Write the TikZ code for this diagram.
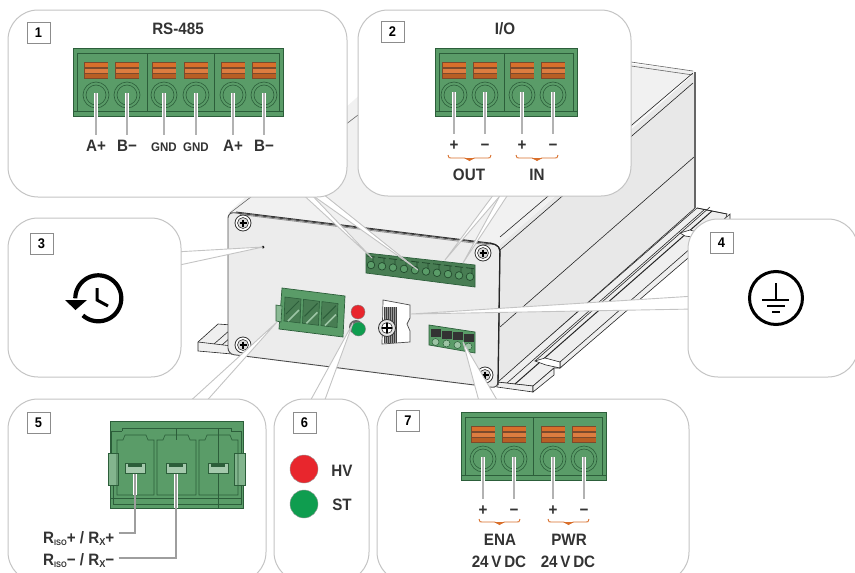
\documentclass[tikz,border=0pt]{standalone}
\usepackage{fontspec}
\setmainfont{Liberation Sans}
\newfontfamily\lblfont[FakeStretch=0.92,UprightFont=* Bold]{Liberation Sans}
\usetikzlibrary{positioning}

\definecolor{termgreen}{HTML}{5A9C68}
\definecolor{termdark}{HTML}{2C5E3A}
\definecolor{termbrown}{HTML}{7C4A2C}
\definecolor{termorange}{HTML}{D96F2B}
\definecolor{facegrey}{HTML}{ECECEC}
\definecolor{sidegrey}{HTML}{E8E8E8}
\definecolor{topgrey}{HTML}{F1F1F1}
\definecolor{railgrey}{HTML}{EFEFEF}
\definecolor{bordergrey}{HTML}{C4C4C4}
\definecolor{ledred}{HTML}{E8262D}
\definecolor{ledgreen}{HTML}{0F9D4F}

% terminal block body: x1, x2, y top
\newcommand{\termbody}[3]{
  \draw[draw=termdark, fill=termgreen, line width=0.7pt] (#1,#3) rectangle (#2,#3+68);
  \draw[draw=termdark, line width=0.6pt] (#1+4,#3+63) -- (#1+4,#3+5) -- (#2-4,#3+5) -- (#2-4,#3+63);
  \draw[draw=termdark, line width=0.6pt] (#1,#3+63) -- (#2,#3+63);
}
% one pin of a terminal block: x, y top
\newcommand{\termpin}[2]{
  \fill[termbrown] (#1-12,#2+14) rectangle (#1+12,#2+31);
  \fill[termorange] (#1-11.5,#2+15) rectangle (#1+11.5,#2+19);
  \fill[termorange!90!white] (#1-11.5,#2+20.5) rectangle (#1+11.5,#2+24.5);
  \fill[termorange!85!black] (#1-11.5,#2+26) rectangle (#1+11.5,#2+30);
  \draw[termdark, line width=0.6pt] (#1,#2+47) circle (13) (#1,#2+47) circle (10);
}
% wire from a pin to its label: x, y top, name, text, style
\newcommand{\pinlabel}[5]{
  \coordinate (pin#3) at (#1,#2+45);
  \node[#5] (#3) at (#1,#2+97) {#4};
  \draw[lead] (pin#3) -- (#3.north);
}
% orange brace: x1, x2, y
\newcommand{\orbrace}[3]{
  \draw[draw=termorange, line width=0.9pt, fill=none]
    (#1,#3) .. controls (#1,#3+3) and (#1+1,#3+3) .. (#1+5,#3+3)
    -- ({(#1+#2)/2-5},#3+3) -- ({(#1+#2)/2},#3+5) -- ({(#1+#2)/2+5},#3+3)
    -- (#2-5,#3+3) .. controls (#2-1,#3+3) and (#2,#3+3) .. (#2,#3);
  \fill[termorange] ({(#1+#2)/2-5},#3+3) -- ({(#1+#2)/2},#3+6) -- ({(#1+#2)/2+5},#3+3) -- cycle;
}
% screw in the front plate
\newcommand{\platescrew}[2]{
  \draw[black!80, line width=0.8pt, fill=white] (#1,#2) circle (8);
  \draw[black!80, line width=0.6pt, fill=black!15] (#1,#2) circle (5.5);
  \draw[black, line width=1.3pt] (#1-3.5,#2) -- (#1+3.5,#2) (#1,#2-3.5) -- (#1,#2+3.5);
}

\begin{document}
\begin{tikzpicture}[
    x=1pt, y=-1pt,
    callout/.style={
      draw=bordergrey, fill=white, line width=1pt,
      rounded corners=30pt
    },
    numbox/.style={
      draw=black!45, fill=white, line width=0.6pt, inner sep=0pt,
      minimum width=23pt, minimum height=21pt,
      font=\lblfont\fontsize{14}{14}\selectfont
    },
    wedge/.style={draw=bordergrey, fill=white, line width=0.9pt, line join=round},
    lead/.style={
      draw=black!30, line width=2pt, shorten >=4pt,
      preaction={draw=white, line width=3.6pt}
    },
    wire/.style={draw=black!38, line width=1.5pt},
    title/.style={font=\lblfont\fontsize{16.5}{17}\selectfont, text=black!80, inner sep=0pt},
    pinbig/.style={title, text height=12pt, text depth=0pt},
    pinsmall/.style={pinbig, font=\lblfont\fontsize{12.5}{13}\selectfont},
    edgeline/.style={draw=black!85, line width=0.6pt}
  ]

\useasboundingbox (0,0) rectangle (855,573);
\clip (0,0) rectangle (855,573);

% --- Flanges below the housing ---
    \draw[edgeline, fill=railgrey] (198,342) -- (218,324) -- (232,325) -- (232,354) -- (198,351) -- cycle;
    \draw[edgeline] (198,342) -- (232,346);
    \draw[edgeline] (214,344) -- (230,330) (222,345) -- (231,337);
    \draw[edgeline, fill=railgrey] (497,382) -- (697,208) -- (727,214) -- (725,221) -- (698,243)
      -- (560,368) -- (554,368) -- (533,386) -- (497,382) -- cycle;
    \draw[edgeline, fill=railgrey] (497,382) -- (533,386) -- (533,392) -- (497,387) -- cycle;
    \draw[edgeline, fill=railgrey] (533,386) -- (554,368) -- (554,375) -- (533,392) -- cycle;
    \draw[edgeline, fill=railgrey] (560,362) -- (730,214) -- (730,222) -- (560,368) -- cycle;
    \draw[edgeline] (507,383) -- (705,209) (697,208) -- (727,214);
    \draw[edgeline, line width=1pt] (515,384) -- (712,211);
    \draw[edgeline] (535,361) -- (710,207);
    \draw[edgeline, fill=white] (535,361) -- (545,358) -- (560,362) -- (560,368) -- (546,365) -- cycle;
    \draw[edgeline, fill=white] (680,233) -- (690,230) -- (700,233) -- (700,238) -- (685,236) -- cycle;

% --- Housing ---
    \fill[topgrey] (228,213) -- (421,40) -- (695,71) -- (500,245) -- cycle;
    \draw[edgeline, draw=black!60] (230,213) -- (358,115);
    \draw[edgeline, draw=black!60] (631,62) -- (693,71) (631,66) -- (693,75);
    \fill[sidegrey] (500,245) -- (695,73) -- (695,208) -- (498,382) -- cycle;
    \draw[edgeline] (500,237) -- (693,73) (500,250) -- (693,83) (500,327) -- (694,157);
    \draw[edgeline] (499,381) -- (695,208);
    \draw[draw=black!60, line width=1.5pt] (695,72) -- (695,208);
    \draw[draw=black!70, fill=facegrey, line width=0.9pt, rounded corners=6pt]
      (228,212) -- (500,245) -- (498,388) -- (228,354) -- cycle;
    \draw[draw=black!85, line width=1.3pt, rounded corners=5pt] (490,243) -- (500,246) -- (498,385);
    \draw[draw=black!80, line width=0.9pt] (236,212) -- (490,243);
    \draw[draw=black!45, line width=0.8pt] (240,214.5) -- (490,245);
    \platescrew{243}{223}
    \platescrew{483}{253}
    \platescrew{243}{345}
    \platescrew{485}{375}
    \fill[black] (263,247) circle (1.5);

% --- Terminal strip on the front plate ---
    \draw[draw=termdark, fill=termgreen!80!black, line width=0.7pt]
      (366,253) -- (475,265) -- (475,287) -- (366,273) -- cycle;
    \foreach \k in {0,...,9} {
      \pgfmathsetmacro{\px}{371+\k*11}
      \pgfmathsetmacro{\py}{265+\k*1.3}
      \draw[termdark!80!black, line width=0.7pt, fill=termgreen] (\px,\py) circle (3.8);
      \draw[termdark!80!black, line width=0.8pt] (\px-4,\py-9) -- (\px+4,\py-8) (\px+2,\py-8) -- (\px+2,\py-3);
    }

% --- Plug on the front plate ---
    \draw[draw=termdark, fill=termgreen, line width=0.7pt]
      (282,288) -- (345,296) -- (343,337) -- (279,329) -- cycle;
    \draw[draw=termdark, fill=termgreen!70!white, line width=0.6pt] (276,305) -- (282,306) -- (281,322) -- (276,321) -- cycle;
    \foreach \k in {0,1,2} {
      \pgfmathsetmacro{\px}{285+\k*18.5}
      \pgfmathsetmacro{\py}{297+\k*2.3}
      \draw[draw=termdark, fill=termgreen!80!black, line width=0.6pt]
        (\px,\py) -- (\px+16,\py+2) -- (\px+15,\py+26) -- (\px-1,\py+24) -- cycle;
      \draw[draw=termdark, line width=1pt] (\px+1,\py+17) -- (\px+14,\py+4);
      \draw[draw=termgreen!60!white, line width=1.6pt] (\px+3,\py+24) -- (\px+14,\py+13);
    }

% --- LEDs ---
    \fill[black!60] (356,327) circle (7);
    \draw[draw=black!50, fill=ledgreen] (358.5,329) circle (7);
    \draw[draw=black!50, fill=ledred] (358,312) circle (7);

% --- Ground bolt ---
    \draw[draw=black!70, fill=white, line width=0.7pt]
      (383,300) -- (410,305) -- (410,318) -- (407,324) -- (410,331) -- (410,342) -- (382,344) -- cycle;
    \fill[black!40] (384,307) rectangle (397,343);
    \foreach \k in {0,...,6} {
      \draw[black!75, line width=0.5pt] (384+\k*2.1,307) -- (384+\k*2.1,343);
    }
    \draw[black!80, line width=0.8pt, fill=black!10] (387,328) circle (8.5);
    \draw[black!80, line width=0.6pt, fill=white] (387,328) circle (5.5);
    \draw[black, line width=1.1pt] (382,328) -- (392,328) (387,323) -- (387,333);

% --- Small terminal on the front plate ---
    \draw[draw=termdark, fill=termgreen, line width=0.7pt]
      (429,325) -- (475,332) -- (475,353) -- (429,345) -- cycle;
    \foreach \k in {0,...,3} {
      \pgfmathsetmacro{\px}{430.5+\k*11}
      \pgfmathsetmacro{\py}{329+\k*1.5}
      \fill[black!80] (\px,\py) rectangle (\px+10,\py+8);
      \draw[termdark, fill=termgreen!60!white, line width=0.5pt] (\px+5,\py+13) circle (3.5);
    }

% --- Wedges from the callouts to the parts ---
    \coordinate (tip1a) at (372,258);
    \coordinate (tip1b) at (418,270);
    \coordinate (tip2a) at (445,260);
    \coordinate (tip2b) at (463,263);
    \coordinate (tip3) at (263,247);
    \coordinate (tip4) at (411,314);
    \coordinate (tip5) at (277,322);
    \coordinate (tip6) at (353,323);
    \coordinate (tip7) at (463,342);
    \draw[wedge] (298,190) -- (tip1a) -- (307,190) -- cycle;
    \draw[wedge] (305,190) -- (tip1b) -- (318,190) -- cycle;
    \draw[wedge] (497,190) -- (tip2a) -- (505,190) -- cycle;
    \draw[wedge] (503,190) -- (tip2b) -- (511,190) -- cycle;
    \draw[wedge] (175,252) -- (tip3) -- (175,266) -- cycle;
    \draw[wedge] (695,296) -- (tip4) -- (695,309) -- cycle;
    \draw[wedge] (186,405) -- (tip5) -- (203,405) -- cycle;
    \draw[wedge] (308,405) -- (tip6) -- (323,405) -- cycle;
    \draw[wedge] (480,405) -- (tip7) -- (500,405) -- cycle;

% --- Callout 1, RS-485 ---
    \draw[callout] (8,10) rectangle (347,197);
    \node[numbox] (num1) at (38.5,32.5) {1};
    \node[title] (rs485) at (178,29) {RS-485};
    \termbody{73}{283}{48}
    \draw[termdark, line width=0.6pt] (147,53) -- (147,111) (214,53) -- (214,111);
    \termpin{96}{48} \termpin{127}{48} \termpin{164}{48}
    \termpin{196}{48} \termpin{233}{48} \termpin{264}{48}
    \pinlabel{96}{48}{lblAa}{A+}{pinbig}
    \pinlabel{127}{48}{lblBa}{B−}{pinbig}
    \pinlabel{164}{48}{lblGa}{GND}{pinsmall}
    \pinlabel{196}{48}{lblGb}{GND}{pinsmall}
    \pinlabel{233}{48}{lblAb}{A+}{pinbig}
    \pinlabel{264}{48}{lblBb}{B−}{pinbig}

% --- Callout 2, I/O ---
    \draw[callout] (358,10) rectangle (631,196);
    \node[numbox] (num2) at (392.5,32) {2};
    \node[title] (io) at (505,29) {I/O};
    \termbody{435}{577}{48}
    \draw[termdark, line width=0.6pt] (504,53) -- (504,111);
    \termpin{454}{48} \termpin{485}{48} \termpin{522}{48} \termpin{553}{48}
    \pinlabel{454}{47}{lblOp}{+}{pinbig}
    \pinlabel{485}{47}{lblOm}{−}{pinbig}
    \pinlabel{522}{47}{lblIp}{+}{pinbig}
    \pinlabel{553}{47}{lblIm}{−}{pinbig}
    \orbrace{448}{491}{155}
    \orbrace{516}{558}{155}
    \node[title] (out) at (469,175) {OUT};
    \node[title] (in) at (537,175) {IN};

% --- Callout 3, reset ---
    \draw[callout] (8,218) rectangle (181,377);
    \node[numbox] (num3) at (41.5,243.5) {3};
    \draw[black, line width=4.2pt] plot[smooth, domain=180:492, samples=50]
      ({98.3+23*cos(\x)},{298.3+23*sin(\x)});
    \fill[black] (65,300) -- (87,300) -- (75.5,310) -- cycle;
    \draw[black, line width=3pt] (97,288) -- (97,300) -- (108,306);

% --- Callout 4, ground ---
    \draw[callout] (688,219) rectangle (858,377);
    \node[numbox] (num4) at (721.5,243) {4};
    \draw[black, line width=3pt] (776,298) circle (26.5);
    \draw[black, line width=1.8pt] (776,283) -- (776,299);
    \draw[black, line width=2pt] (762,299.5) -- (789,299.5);
    \draw[black, line width=2pt] (767,306) -- (785,306);
    \draw[black, line width=2pt] (772,312) -- (780,312);

% --- Callout 5, plug ---
    \draw[callout] (8,399) rectangle (266,582);
    \node[numbox] (num5) at (38.5,423) {5};
    \draw[draw=termdark, fill=termgreen, line width=0.6pt] (110,421) rectangle (243,508);
    \draw[draw=termdark, fill=termgreen!75!white, line width=0.5pt] (108,453) rectangle (118,485);
    \draw[draw=termdark, fill=termgreen!75!white, line width=0.5pt] (234,453) rectangle (245,485);
    \draw[termdark, line width=0.6pt] (122,431) -- (122,428) -- (231,428) -- (231,431);
    \draw[termdark, line width=0.6pt] (111,431) -- (122,431) (231,431) -- (242,431)
      (111,498) -- (241,498) (111,431) -- (111,453) (241,431) -- (241,453)
      (113,485) -- (113,504) -- (241,504) -- (241,485);
    \foreach \xa/\xb in {117/154,157/196,199/238} {
      \draw[termdark, line width=0.6pt]
        (\xa,495) -- (\xa,440) -- (\xa+6,440) -- (\xa+8,435) -- (\xb-8,435) -- (\xb-6,440) -- (\xb,440) -- (\xb,495) -- cycle;
    }
    \draw[termdark, line width=0.6pt] (176,428) -- (176,440) (218,428) -- (218,508) (176,495) -- (176,508);
    \foreach \sx in {135,176,218} {
      \draw[termdark, line width=0.6pt, fill=termgreen!55!white] (\sx-10,463) rectangle (\sx+10,473);
      \fill[termdark] (\sx-7,464) rectangle (\sx+7,467);
    }
    \node[pinbig, anchor=west] (riso1) at (43,537) {R\raisebox{-2pt}{\fontsize{8}{8}\selectfont ISO}+ / R\raisebox{-2pt}{\fontsize{10}{10}\selectfont X}+};
    \node[pinbig, anchor=west] (riso2) at (43,559) {R\raisebox{-2pt}{\fontsize{8}{8}\selectfont ISO}− / R\raisebox{-2pt}{\fontsize{10}{10}\selectfont X}−};
    \coordinate (slot1) at (135,474);
    \coordinate (slot2) at (176,474);
    \draw[draw=white, line width=3.6pt] (slot1) -- (135,495);
    \draw[draw=white, line width=3.6pt] (slot2) -- (176,508);
    \draw[wire] (riso1.east) ++(4,-4) -| (slot1);
    \draw[wire] (riso2.east) ++(4,-1) -| (slot2);

% --- Callout 6, LEDs ---
    \draw[callout] (274,399) rectangle (369,582);
    \node[numbox] (num6) at (304.5,423) {6};
    \draw[draw=black!40, fill=ledred] (304,469) circle (14);
    \draw[draw=black!40, fill=ledgreen] (304,504) circle (14);
    \node[pinbig] (hv) at (342,470) {HV};
    \node[pinbig] (st) at (342,504) {ST};

% --- Callout 7, ENA and PWR ---
    \draw[callout] (377,399) rectangle (689,582);
    \node[numbox] (num7) at (408,421) {7};
    \termbody{461}{606}{412}
    \draw[termdark, line width=0.6pt] (533,417) -- (533,475);
    \termpin{483}{412} \termpin{514}{412} \termpin{553}{412} \termpin{584}{412}
    \pinlabel{483}{412}{lblEp}{+}{pinbig}
    \pinlabel{514}{412}{lblEm}{−}{pinbig}
    \pinlabel{553}{412}{lblPp}{+}{pinbig}
    \pinlabel{584}{412}{lblPm}{−}{pinbig}
    \orbrace{479}{520}{519}
    \orbrace{548}{589}{519}
    \node[pinbig] (ena) at (500,539) {ENA};
    \node[pinbig] (enav) at (499,561) {24\,V\,DC};
    \node[pinbig] (pwr) at (569,539) {PWR};
    \node[pinbig] (pwrv) at (568,561) {24\,V\,DC};

  \end{tikzpicture}
\end{document}
